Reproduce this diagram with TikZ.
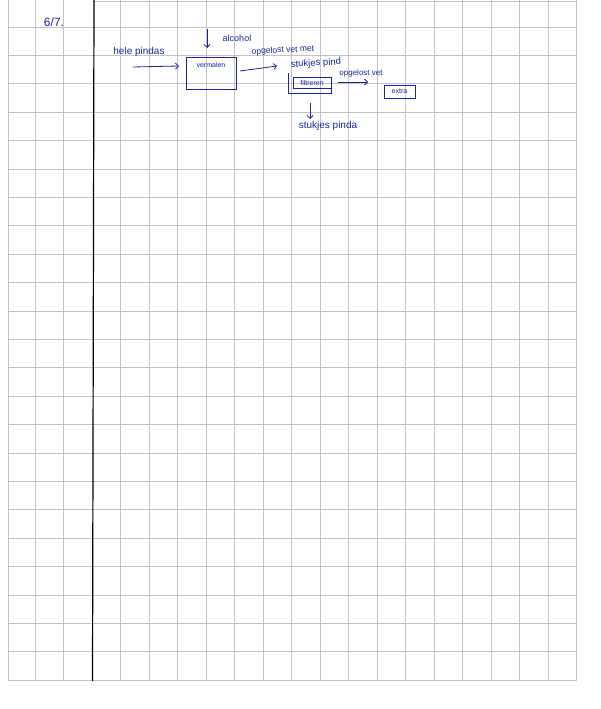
\documentclass[tikz,border=0pt]{standalone}
\usepackage{fontspec}
\setmainfont{Liberation Sans}
\usetikzlibrary{arrows.meta}
\definecolor{ink}{RGB}{25,38,150}
\definecolor{gridgray}{RGB}{195,195,195}
\tikzset{
  gridline/.style={draw=gridgray, line width=0.7pt},
  hand/.style={text=ink, inner sep=0pt, font=\fontsize{9}{10}\selectfont},
  flowbox/.style={draw=ink, line width=0.8pt, text=ink, inner sep=0pt, font=\fontsize{7}{8}\selectfont},
  flow/.style={draw=ink, line width=0.8pt, -{Straight Barb[length=3pt,width=6pt]}},
}
\begin{document}
\begin{tikzpicture}[x=1pt,y=-1pt]
\useasboundingbox (0,0) rectangle (600,709);
\fill[white] (0,0) rectangle (600,709);
% grid
\foreach \k in {0,...,23} {
  \draw[gridline] (8,{27+28.4*\k}) -- (577,{27+28.4*\k});
}
\draw[gridline] (93,1) -- (577,1);
\foreach \x in {8,35.3,63.8} {
  \draw[gridline] (\x,0) -- (\x,681);
}
\foreach \k in {1,...,17} {
  \draw[gridline] ({92.3+28.5*\k},0) -- ({92.3+28.5*\k},681);
}
\draw[black, line width=1.2pt] (94,0) -- (92.5,681);

% diagram
\node[hand, font=\fontsize{12}{14}\selectfont] (num) at (54,22) {6/7.};
\node[hand, font=\fontsize{10}{12}\selectfont] (hele) at (139,52) {hele pindas};
\node[flowbox, minimum width=50pt, minimum height=32pt] (verm) at (211,73) {};
\node[hand, font=\fontsize{7}{8}\selectfont] (vermtxt) at (211,65) {vermalen};
\coordinate (h0) at (133,67);
\coordinate (h1) at (179,66);
\draw[flow] (h0) -- (h1);
\coordinate (a0) at (207,29);
\coordinate (a1) at (207,48);
\draw[flow] (a0) -- (a1);
\node[hand] (alc) at (237,38) {alcohol};
\coordinate (v0) at (240,71);
\coordinate (v1) at (277,66);
\draw[flow] (v0) -- (v1);
\node[hand, font=\fontsize{8.5}{10}\selectfont, rotate=3] (opg1) at (283,50.5) {opgelost vet met};
\node[hand, font=\fontsize{9.5}{11}\selectfont, rotate=3] (stuk1) at (316,63.5) {stukjes pind};
\node[flowbox, minimum width=38pt, minimum height=11pt] (filt) at (312,82.5) {filtreren};
\draw[ink, line width=0.8pt] (288,73) -- (288,93) -- (331,93) -- (331,88);
\coordinate (f0) at (338,82);
\coordinate (f1) at (368,82);
\draw[flow] (f0) -- (f1);
\node[hand, font=\fontsize{8}{9}\selectfont] (opg2) at (361,73) {opgelost vet};
\node[flowbox, minimum width=31pt, minimum height=13pt] (extra) at (399.5,91.5) {extra};
\coordinate (d0) at (310,103);
\coordinate (d1) at (310,119);
\draw[flow] (d0) -- (d1);
\node[hand, font=\fontsize{10}{12}\selectfont] (stuk2) at (328,126) {stukjes pinda};
\end{tikzpicture}
\end{document}
